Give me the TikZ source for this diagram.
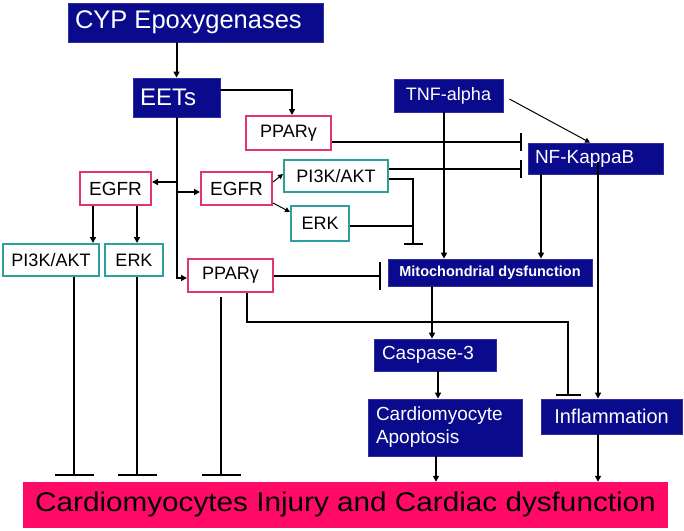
\documentclass[tikz,border=0pt]{standalone}
\usepackage{fontspec}
\setmainfont{Liberation Sans}
\usetikzlibrary{arrows.meta,calc}
\definecolor{navyb}{HTML}{0A0A8C}
\definecolor{pinkbar}{HTML}{FF0A66}
\definecolor{pinkline}{HTML}{E0356F}
\definecolor{tealline}{HTML}{2E9E9E}
\tikzset{
 dark/.style={fill=navyb, draw=navyb!85!white, line width=0.8pt, text=white, inner sep=0pt},
 pbox/.style={draw=pinkline, line width=2pt, fill=white, inner sep=0pt, font=\fontsize{18}{20}\selectfont},
 tbox/.style={draw=tealline, line width=2pt, fill=white, inner sep=0pt, font=\fontsize{18}{20}\selectfont},
 con/.style={line width=2pt, black},
 arr/.style={con, -{Triangle[length=6pt,width=6pt]}},
 thinarr/.style={line width=1pt, black, -{Triangle[length=5pt,width=5pt]}},
 inh/.style={con, -{Bar[width=#1]}},
 inh/.default=18pt,
}
\begin{document}
\begin{tikzpicture}[x=1pt,y=-1pt]
\useasboundingbox (0,0) rectangle (684,530);
% nodes
\node[dark, minimum width=255pt, minimum height=39pt, font=\fontsize{25.5}{28}\selectfont] (cyp) at (195.5,22.5) {\makebox[241pt][l]{CYP Epoxygenases}};
\node[dark, minimum width=87pt, minimum height=39pt, font=\fontsize{24}{26}\selectfont] (eets) at (176.5,97.5) {\makebox[73pt][l]{EETs}};
\node[pbox, minimum width=85pt, minimum height=34pt] (ppar1) at (288.5,133) {PPARγ};
\node[pbox, minimum width=71pt, minimum height=33pt, font=\fontsize{19}{21}\selectfont] (egfrL) at (115.5,188.5) {EGFR};
\node[pbox, minimum width=71pt, minimum height=33pt, font=\fontsize{19}{21}\selectfont] (egfrM) at (236.5,188.5) {EGFR};
\node[tbox, minimum width=104pt, minimum height=32pt] (pi3kM) at (336,176) {PI3K/AKT};
\node[tbox, minimum width=58pt, minimum height=35pt] (erkM) at (320,223.5) {ERK};
\node[tbox, minimum width=96pt, minimum height=32pt] (pi3kL) at (51,260) {PI3K/AKT};
\node[tbox, minimum width=58pt, minimum height=32pt] (erkL) at (134,260) {ERK};
\node[pbox, minimum width=85pt, minimum height=33pt] (ppar2) at (230.5,275.5) {PPARγ};
\node[dark, minimum width=109pt, minimum height=33pt, font=\fontsize{18}{20}\selectfont] (tnf) at (448.5,95.5) {TNF-alpha};
\node[dark, minimum width=135pt, minimum height=31pt, font=\fontsize{19}{21}\selectfont] (nfkb) at (595.5,158.5) {\makebox[121pt][l]{NF-KappaB}};
\node[dark, minimum width=204pt, minimum height=27pt, font=\bfseries\fontsize{14.5}{16}\selectfont] (mito) at (490,272.5) {Mitochondrial dysfunction};
\node[dark, minimum width=122pt, minimum height=32pt, font=\fontsize{19}{21}\selectfont] (casp) at (435,355) {\makebox[106pt][l]{Caspase-3}};
\node[dark, minimum width=154pt, minimum height=57pt, text width=138pt, font=\fontsize{19}{23}\selectfont, align=left] (apop) at (445,427.5) {Cardiomyocyte\\Apoptosis};
\node[dark, minimum width=141pt, minimum height=35pt, font=\fontsize{20}{22}\selectfont] (infl) at (611.5,416.5) {Inflammation};
\node[fill=pinkbar, minimum width=645pt, minimum height=46pt, inner sep=0pt, font=\fontsize{27}{30}\selectfont] (inj) at (345.5,505) {\scalebox{1.1}[1]{Cardiomyocytes Injury and Cardiac dysfunction}};
% connectors
\draw[arr] (eets.north |- cyp.south) -- (eets.north);
\coordinate (e1) at ([yshift=7.5pt]eets.east);
\coordinate (e2) at ([xshift=3.5pt]ppar1.north);
\draw[arr] (e1) -| (e2);
\draw[arr] (eets.south) |- ([yshift=-2.5pt]ppar2.west);
\coordinate (aL) at ([yshift=6.5pt]egfrL.east);
\draw[arr] (eets.south |- aL) -- (aL);
\coordinate (aM) at ([yshift=-3.5pt]egfrM.west);
\draw[arr] (eets.south |- aM) -- (aM);
\coordinate (dL1) at ([xshift=-22.5pt]egfrL.south);
\draw[arr] (dL1) -- (dL1 |- pi3kL.north);
\coordinate (dL2) at ([xshift=21.5pt]egfrL.south);
\draw[arr] (dL2) -- (dL2 |- erkL.north);
\draw[thinarr] ([yshift=6.5pt]egfrM.east) -- ([yshift=2pt]pi3kM.west);
\draw[thinarr] ([yshift=-14.5pt]egfrM.east) -- ([yshift=11.5pt]erkM.west);
% inhibition of NF-KappaB
\coordinate (nb) at ([xshift=-6pt]nfkb.west);
\coordinate (n1) at ([yshift=-9pt]ppar1.east);
\draw[inh=18pt] (n1) -- (n1 -| nb);
\coordinate (n2) at ([yshift=7pt]pi3kM.east);
\draw[inh=18pt] (n2) -- (n2 -| nb);
% PI3K/ERK T
\coordinate (q1) at ([yshift=-3pt]pi3kM.east);
\coordinate (qx) at (413,245);
\draw[inh=19pt] (q1) -| (qx);
\coordinate (q2) at ([yshift=-2.5pt]erkM.east);
\draw[con] (q2) -- (q2 -| qx);
% TNF
\coordinate (t1) at ([xshift=-4.5pt]tnf.south);
\draw[arr] (t1) -- (t1 |- mito.north);
\draw[thinarr] ([xshift=6pt,yshift=-3.5pt]tnf.east) -- ([xshift=-5.5pt]nfkb.north);
% NF-KappaB
\coordinate (k1) at ([xshift=-54.5pt]nfkb.south);
\draw[arr] (k1) -- (k1 |- mito.north);
\coordinate (k2) at ([xshift=2.5pt,yshift=-3.5pt]nfkb.center);
\draw[arr] (k2) -- (k2 |- infl.north);
% PPAR2
\coordinate (mb) at ([xshift=-7pt]mito.west);
\draw[inh=28pt] (ppar2.east) -- (ppar2.east -| mb);
\coordinate (r1) at ([xshift=16.5pt]ppar2.south);
\coordinate (r2) at (568,322);
\coordinate (r3) at ([xshift=-43.5pt,yshift=3pt]infl.north);
\draw[inh=25pt] (r1) |- (r2) -- (r3);
% chain
\coordinate (m1) at ([xshift=-58pt]mito.south);
\draw[arr] (m1) -- (m1 |- casp.north);
\coordinate (c1) at ([xshift=3pt]casp.south);
\draw[arr] (c1) -- (c1 |- apop.north);
\coordinate (a1) at ([xshift=-9pt]apop.south);
\draw[arr] (a1) -- (a1 |- inj.north);
\coordinate (i1) at ([xshift=-13.5pt]infl.south);
\draw[arr] (i1) -- (i1 |- inj.north);
% bottom inhibitions
\coordinate (ib) at ([yshift=6pt]inj.north);
\coordinate (l1) at ([xshift=23pt]pi3kL.south);
\draw[inh=39pt] (l1) -- (l1 |- ib);
\coordinate (l2) at ([xshift=3pt]erkL.south);
\draw[inh=39pt] (l2) -- (l2 |- ib);
\coordinate (l3) at ([xshift=-9.5pt,yshift=-4pt]ppar2.south);
\draw[inh=39pt] (l3) -- (l3 |- ib);
\end{tikzpicture}
\end{document}
